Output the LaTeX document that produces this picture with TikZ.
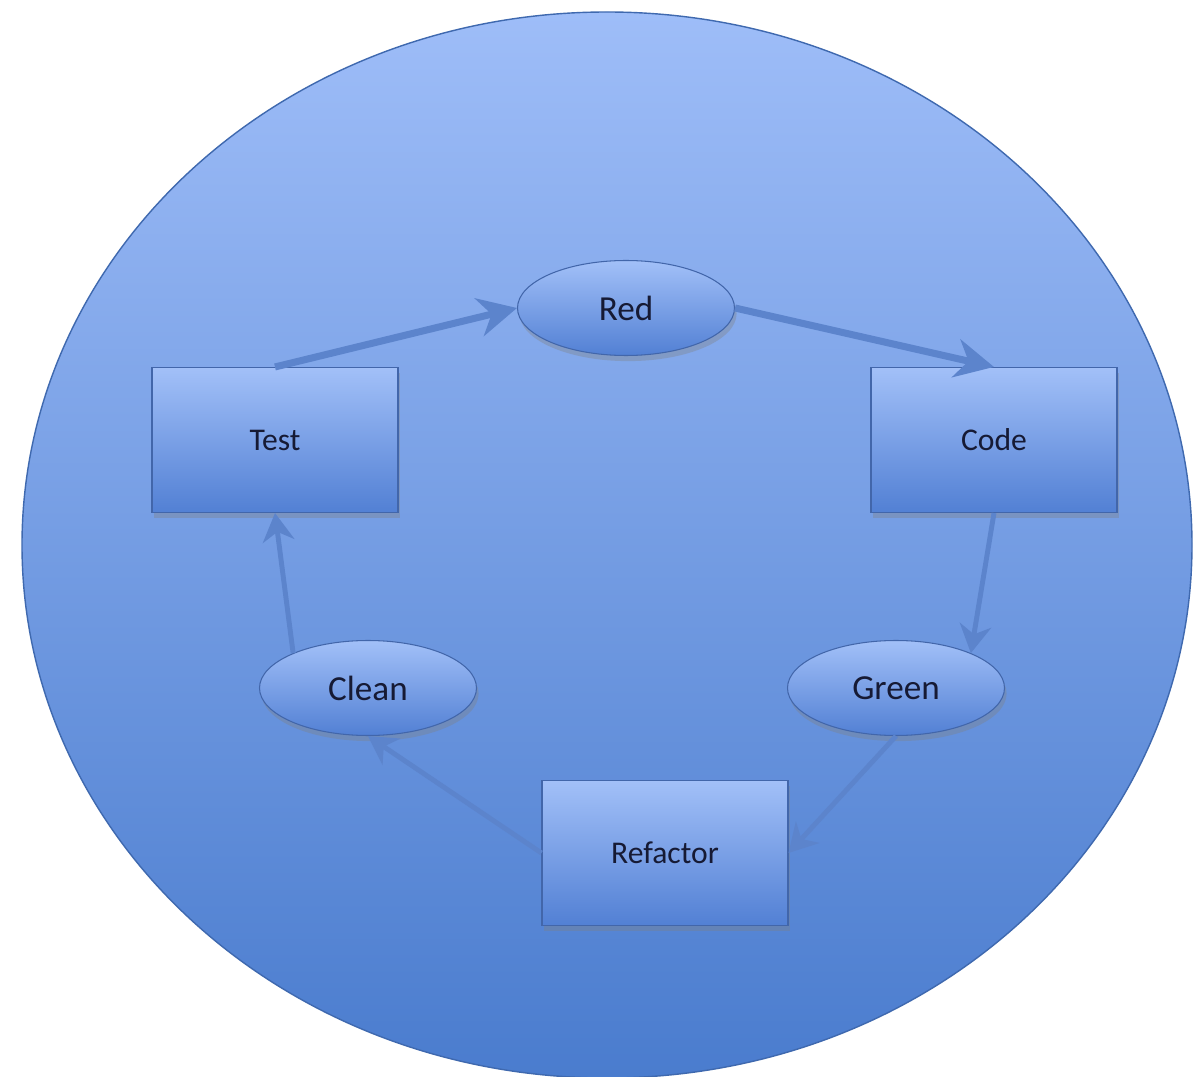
\documentclass[tikz,border=0pt]{standalone}
\usepackage{fontspec}
\setmainfont{Carlito}
\usetikzlibrary{shapes,arrows.meta,shadows}
\definecolor{ringtop}{RGB}{158,189,248}
\definecolor{ringbot}{RGB}{74,124,206}
\definecolor{boxtop}{RGB}{162,192,248}
\definecolor{boxbot}{RGB}{82,128,212}
\definecolor{flow}{RGB}{92,132,204}
\definecolor{ink}{RGB}{22,26,52}
\tikzset{>={Stealth[length=11pt,width=11pt]}}
\tikzset{
	stagebox/.style={rectangle,minimum width=2.46cm,minimum height=1.45cm,draw=boxbot!80!black,line width=0.3pt,
		top color=boxtop,bottom color=boxbot,text=ink,font=\fontsize{9}{11}\selectfont,
		drop shadow={opacity=0.35,shadow xshift=0.6pt,shadow yshift=-1.6pt}},
	statenode/.style={ellipse,minimum width=2.17cm,minimum height=0.95cm,inner sep=0pt,draw=boxbot!80!black,line width=0.3pt,
		top color=boxtop,bottom color=boxbot,text=ink,font=\fontsize{10}{12}\selectfont,
		drop shadow={opacity=0.35,shadow xshift=0.6pt,shadow yshift=-1.6pt}},
	flowline/.style={->,draw=flow,line width=2pt},
	flowthin/.style={->,draw=flow,line width=1.4pt,>={Stealth[length=8pt,width=9pt]}}
}

\begin{document}
\begin{tikzpicture}
	\useasboundingbox (0,0) rectangle (12.03,10.76);
	\fill[white] (0,0) rectangle (12.03,10.76);
	\shade[top color=ringtop,bottom color=ringbot,draw=ringbot!85!black,line width=0.4pt]
		(6.07,5.31) ellipse [x radius=5.85cm,y radius=5.33cm];
	% stages
	\node[stagebox] (test) at (2.75,6.36) {Test};
	\node[stagebox] (code) at (9.94,6.36) {Code};
	\node[stagebox] (refactor) at (6.65,2.23) {Refactor};
	% states
	\node[statenode] (red) at (6.26,7.68) {Red};
	\node[statenode] (green) at (8.96,3.88) {Green};
	\node[statenode] (clean) at (3.68,3.88) {Clean};
	% cycle
	\draw[flowline] (test.north) -- (red.west);
	\draw[flowline] (red.east) -- (code.north);
	\draw[flowthin] (code.south) -- (green.25);
	\draw[flowthin] (green.south) -- (refactor.east);
	\draw[flowthin] (refactor.west) -- (clean.south);
	\draw[flowthin] (clean.155) -- (test.south);
\end{tikzpicture}
\end{document}
